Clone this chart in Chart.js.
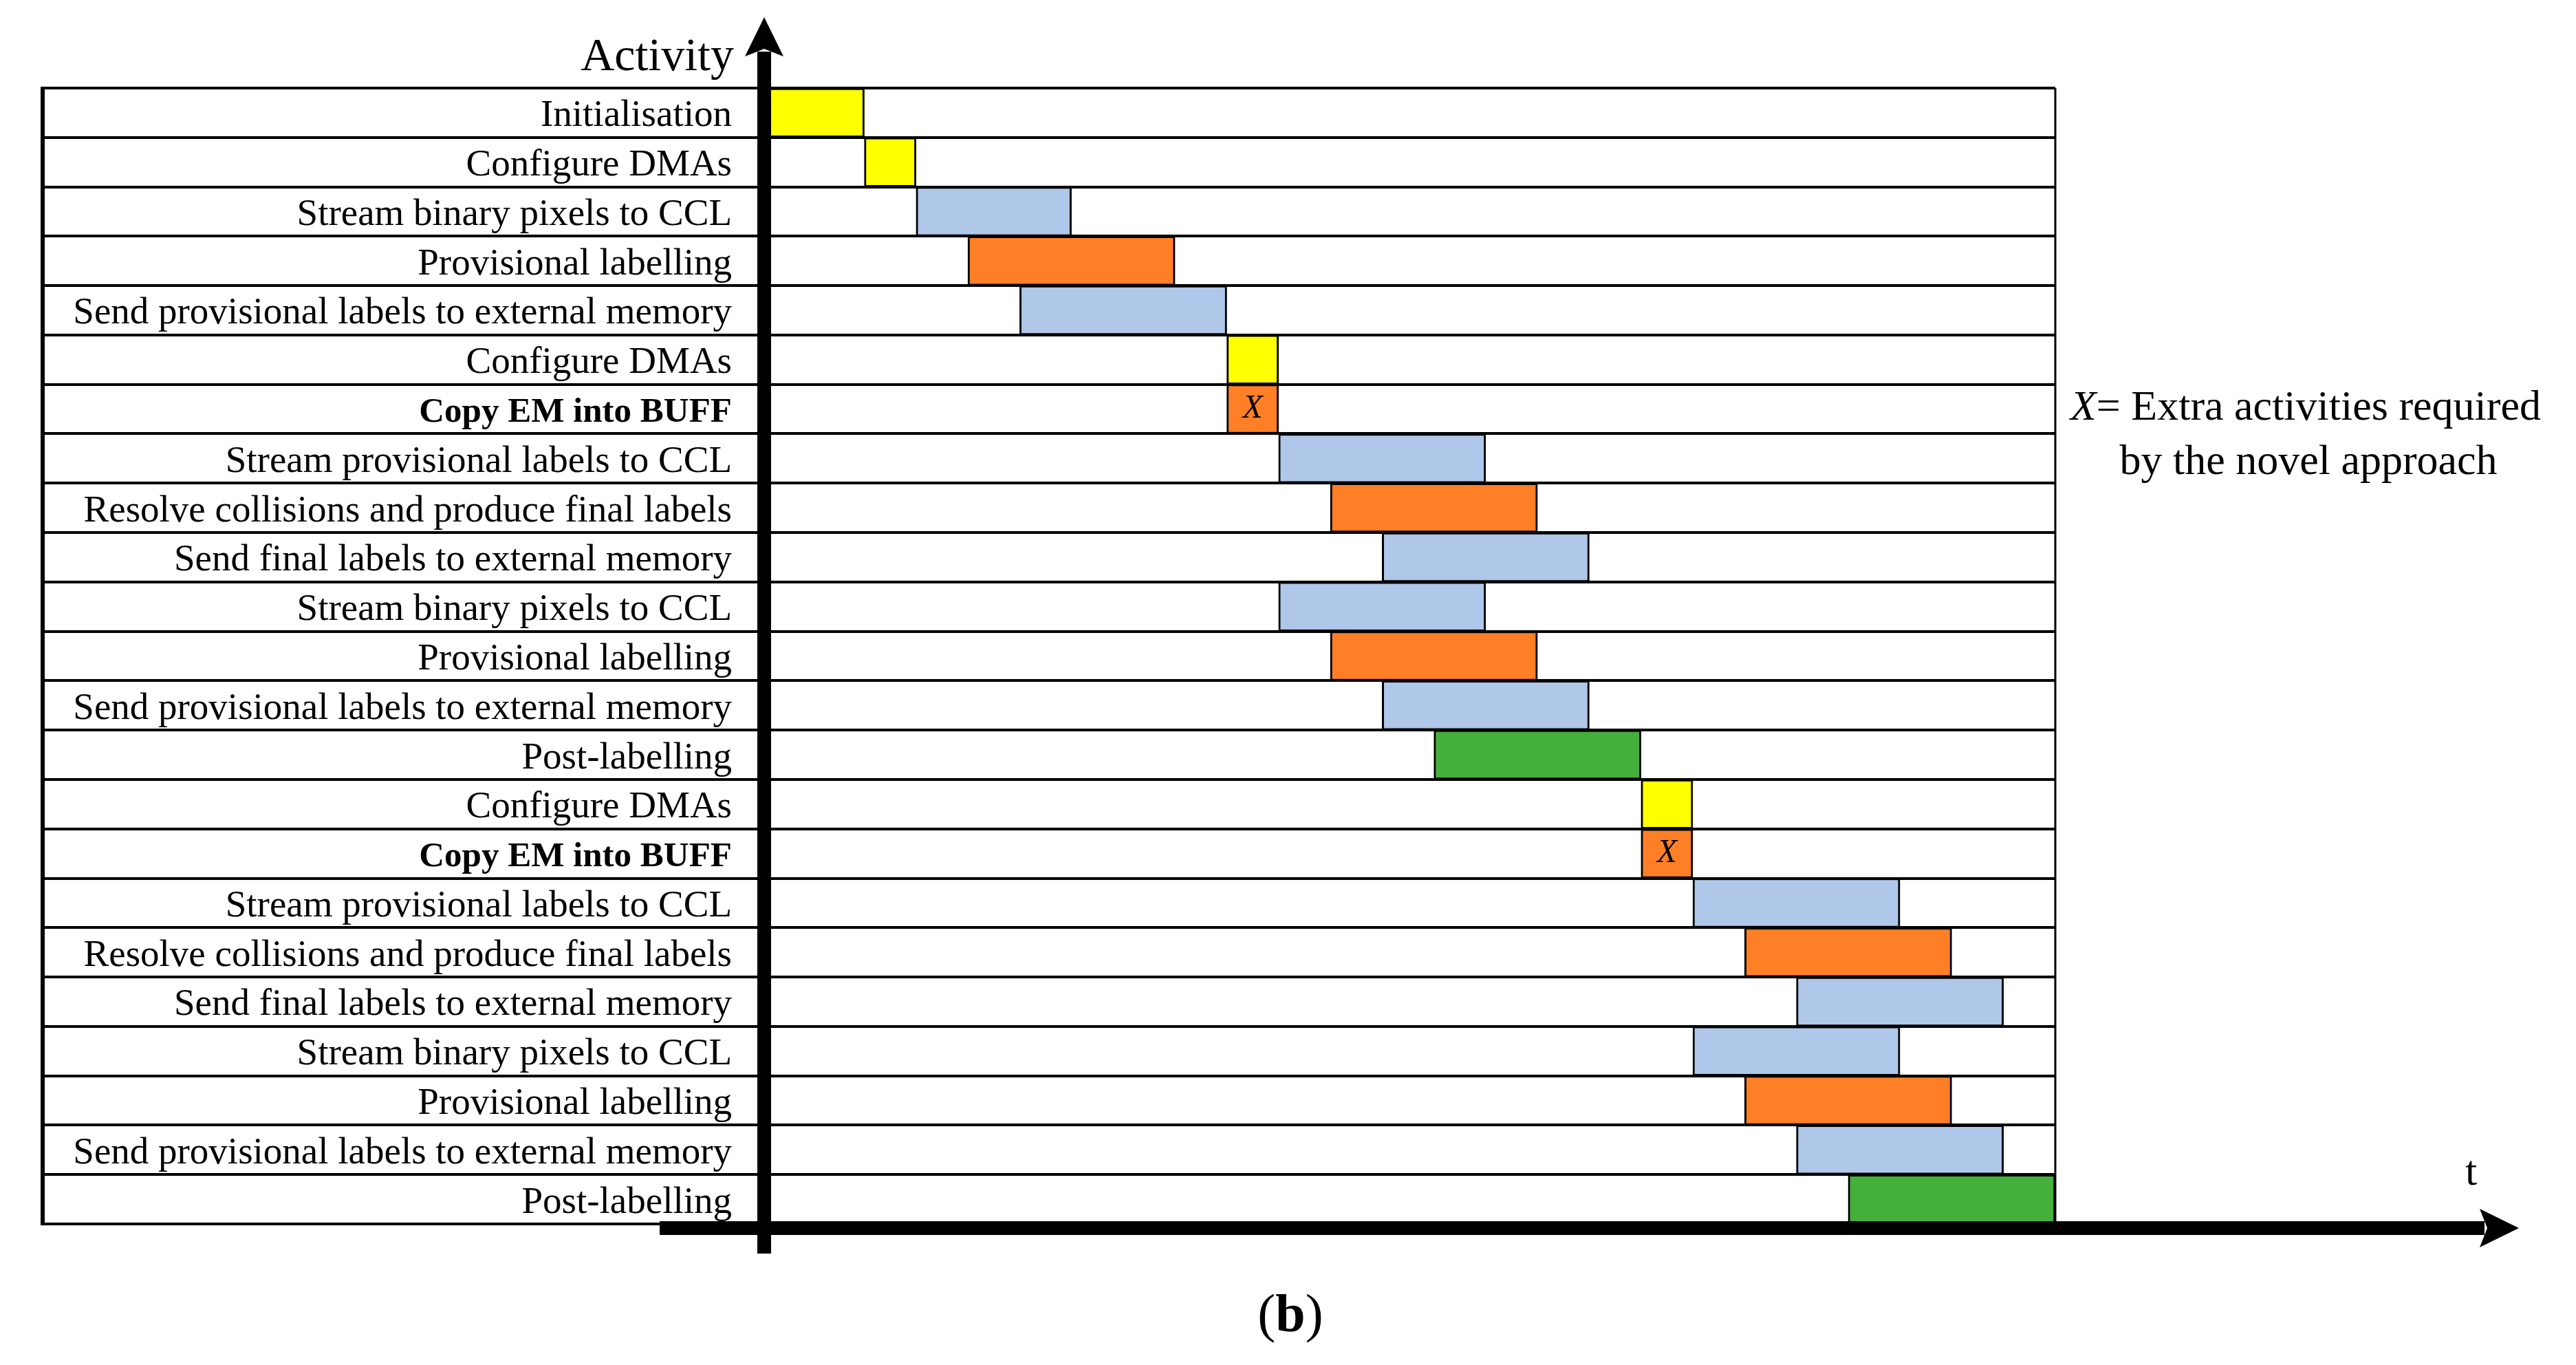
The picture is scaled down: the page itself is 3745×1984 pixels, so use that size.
<!DOCTYPE html>
<html lang="en">
<head>
  <meta charset="UTF-8">
  <title>Activity timeline (b)</title>
  <script src="https://cdn.jsdelivr.net/npm/chart.js"></script>
  <style>
    body { margin: 0; background: #fff; }
    #wrap { width: 3745px; height: 1984px; position: relative; }
  </style>
</head>
<body>
  <div id="wrap"><canvas id="gantt"></canvas></div>

  <script>
    const activities = [
      'Initialisation',
      'Configure DMAs',
      'Stream binary pixels to CCL',
      'Provisional labelling',
      'Send provisional labels to external memory',
      'Configure DMAs',
      'Copy EM into BUFF',
      'Stream provisional labels to CCL',
      'Resolve collisions and produce final labels',
      'Send final labels to external memory',
      'Stream binary pixels to CCL',
      'Provisional labelling',
      'Send provisional labels to external memory',
      'Post-labelling',
      'Configure DMAs',
      'Copy EM into BUFF',
      'Stream provisional labels to CCL',
      'Resolve collisions and produce final labels',
      'Send final labels to external memory',
      'Stream binary pixels to CCL',
      'Provisional labelling',
      'Send provisional labels to external memory',
      'Post-labelling'
    ];
    const startTimes = [0, 2, 3, 4, 5, 9, 9, 10, 11, 12, 10, 11, 12, 13, 17, 17, 18, 19, 20, 18, 19, 20, 21];
    const endTimes   = [2, 3, 6, 8, 9, 10, 10, 14, 15, 16, 14, 15, 16, 17, 18, 18, 22, 23, 24, 22, 23, 24, 25];
    const kinds = ['setup', 'setup', 'transfer', 'compute', 'transfer', 'setup', 'extra', 'transfer', 'compute',
                   'transfer', 'transfer', 'compute', 'transfer', 'post', 'setup', 'extra', 'transfer', 'compute',
                   'transfer', 'transfer', 'compute', 'transfer', 'post'];
    const kindColours = {
      setup: '#FFFF00',
      transfer: '#AFC7E9',
      compute: '#FF7F27',
      extra: '#FF7F27',
      post: '#45AF3C'
    };

    const FONT = '"Liberation Serif", "Times New Roman", serif';

    // axes arrows, frame and free text
    const decorations = {
      id: 'decorations',
      afterDraw(chart) {
        const ctx = chart.ctx;
        const area = chart.chartArea;
        const yScale = chart.scales.y;
        ctx.save();
        ctx.fillStyle = '#000';
        ctx.strokeStyle = '#000';

        // outer frame of the table
        ctx.lineWidth = 6;
        ctx.beginPath();
        ctx.moveTo(yScale.left, area.top - 2);
        ctx.lineTo(yScale.left, area.bottom + 2);
        ctx.stroke();
        ctx.lineWidth = 3;
        ctx.beginPath();
        ctx.moveTo(area.right, area.top);
        ctx.lineTo(area.right, area.bottom);
        ctx.stroke();

        // vertical axis with arrow
        const ax = area.left + 5;
        ctx.fillRect(ax - 10, 75, 20, area.bottom + 43 - 75);
        ctx.beginPath();
        ctx.moveTo(ax, 25);
        ctx.lineTo(ax + 28, 82);
        ctx.lineTo(ax, 71);
        ctx.lineTo(ax - 28, 82);
        ctx.closePath();
        ctx.fill();

        // horizontal axis with arrow
        const ay = area.bottom + 6;
        const tip = 3662;
        ctx.fillRect(959, ay - 10, tip - 50 - 959, 20);
        ctx.beginPath();
        ctx.moveTo(tip, ay);
        ctx.lineTo(tip - 57, ay - 28);
        ctx.lineTo(tip - 46, ay);
        ctx.lineTo(tip - 57, ay + 28);
        ctx.closePath();
        ctx.fill();

        // texts
        ctx.textBaseline = 'alphabetic';
        ctx.font = '68px ' + FONT;
        ctx.textAlign = 'right';
        ctx.fillText('Activity', 1067, 102);

        ctx.textAlign = 'left';
        ctx.font = '62px ' + FONT;
        ctx.fillText('t', 3584, 1722);

        // note on the right
        ctx.font = 'italic 62px ' + FONT;
        ctx.fillText('X', 3010, 610);
        const xw = ctx.measureText('X').width;
        ctx.font = '62px ' + FONT;
        ctx.fillText('= Extra activities required', 3010 + xw, 610);
        ctx.textAlign = 'center';
        ctx.fillText('by the novel approach', 3356, 689);

        // (b) caption
        ctx.textAlign = 'left';
        ctx.font = '78px ' + FONT;
        const pw = ctx.measureText('(').width;
        ctx.font = 'bold 78px ' + FONT;
        const bw = ctx.measureText('b').width;
        ctx.font = '78px ' + FONT;
        const total = pw * 2 + bw;
        let cx = 1876 - total / 2;
        ctx.fillText('(', cx, 1935);
        ctx.font = 'bold 78px ' + FONT;
        ctx.fillText('b', cx + pw, 1935);
        ctx.font = '78px ' + FONT;
        ctx.fillText(')', cx + pw + bw, 1935);

        ctx.restore();
      },
      afterDatasetsDraw(chart) {
        // italic X on the extra activity bars
        const ctx = chart.ctx;
        const meta = chart.getDatasetMeta(0);
        ctx.save();
        ctx.fillStyle = '#000';
        ctx.font = 'italic 48px ' + FONT;
        ctx.textAlign = 'center';
        ctx.textBaseline = 'middle';
        kinds.forEach((k, i) => {
          if (k !== 'extra') return;
          const bar = meta.data[i];
          ctx.fillText('X', (bar.x + bar.base) / 2, bar.y);
        });
        ctx.restore();
      }
    };

    new Chart(document.getElementById('gantt'), {
      type: 'bar',
      data: {
        labels: activities,
        datasets: [{
          data: activities.map((a, i) => [startTimes[i], endTimes[i]]),
          backgroundColor: kinds.map(k => kindColours[k]),
          borderColor: '#000',
          borderWidth: 3,
          borderSkipped: false,
          barPercentage: 1,
          categoryPercentage: 1
        }]
      },
      options: {
        indexAxis: 'y',
        responsive: true,
        maintainAspectRatio: false,
        animation: false,
        layout: { padding: { left: 62, top: 128, right: 757, bottom: 205 } },
        plugins: {
          legend: { display: false },
          tooltip: { enabled: false }
        },
        scales: {
          x: {
            type: 'linear',
            min: 0,
            max: 25,
            display: false
          },
          y: {
            z: 1,
            afterFit: scale => { scale.width = 1044; },
            border: { display: false },
            grid: {
              offset: true,
              color: '#000',
              lineWidth: 4,
              tickLength: 1044,
              drawTicks: true
            },
            ticks: {
              autoSkip: false,
              color: '#000',
              padding: -1002,
              labelOffset: 5,
              font: c => kinds[c.index] === 'extra'
                ? { family: FONT, size: 51, weight: 'bold' }
                : { family: FONT, size: 55, weight: 'normal' }
            }
          }
        }
      },
      plugins: [decorations]
    });
  </script>
</body>
</html>
